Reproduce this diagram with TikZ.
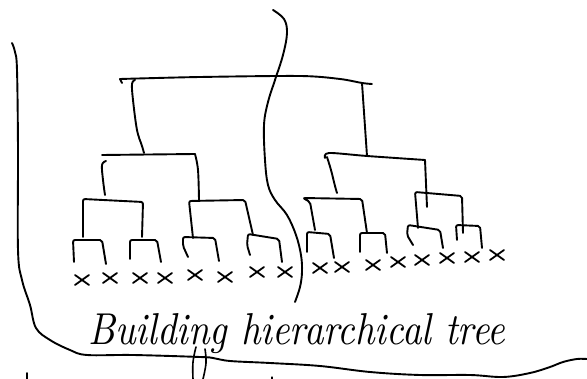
\documentclass[tikz,border=0pt]{standalone}
\usepackage{graphicx}
\tikzset{
  pen/.style={line width=1.9pt, line cap=round, line join=round, black},
  bracket/.style={pen, rounded corners=2pt},
  leafmark/.style={pen, line width=1.8pt},
}
\begin{document}
\begin{tikzpicture}[x=1pt, y=-1pt]
  \useasboundingbox (0,0) rectangle (587,379);

  % frame drawn round the tree
  \draw[pen] plot[smooth, tension=0.6] coordinates {
    (12,43) (15,52) (17,70) (18,150) (18,250) (22,280) (30,305)
    (36,328) (50,340) (70,350) (87,355) (133,355) (200,357) (213,358)
    (230,361) (270,363) (320,366) (370,372) (420,375) (470,375)
    (503,377) (530,373) (550,367) (563,362) (577,359) (587,359)};

  % wavy divider between the two halves
  \draw[pen] plot[smooth, tension=0.6] coordinates {
    (273,10) (284,19) (287,33) (283,55) (275,80) (268,102) (264,125)
    (265,160) (268,185) (275,200) (287,215) (296,235) (301,255)
    (302,272) (300,287) (295,302)};

  % stray marks along the bottom edge
  \draw[pen] (27,373) -- (27,379);
  \draw[pen, line width=1.2pt] (272,377) -- (272,379);

  % ---- root ----
  \draw[pen] plot[smooth, tension=0.5] coordinates {
    (120,79) (200,77) (300,76) (340,79) (362,83) (372,84)};
  \draw[pen] (120,79) -- (122,83);
  \draw[pen] plot[smooth, tension=0.6] coordinates {
    (135,80) (132,84) (133,100) (137,130) (142,146) (144,153)};
  \draw[pen] (362,83) -- (367,156);

  % ---- left half ----
  \draw[pen] (102,155) -- (195,154);
  \draw[pen] plot[smooth, tension=0.6] coordinates {
    (106,161) (102,165) (103,180) (105,195)};
  \draw[pen] plot[smooth, tension=0.6] coordinates {(195,154) (198,170) (199,200)};

  \draw[bracket] (83,237) -- (83,199) -- (143,202) -- (142,237);
  \draw[bracket] (193,238) -- (189,201) -- (245,200) -- (253,235);

  \draw[bracket] (74,262) -- (73,240) -- (102,240) -- (106,264);
  \draw[bracket] (130,259) -- (130,240) -- (157,240) -- (161,262);
  \draw[bracket] (188,257) -- (183,246) -- (183,237) -- (215,238) -- (219,261);
  \draw[bracket] (250,255) -- (247,245) -- (248,234) -- (279,239) -- (282,262);

  % ---- right half ----
  \draw[pen] plot[smooth, tension=0.5] coordinates {
    (325,158) (329,153) (367,156) (425,160)};
  \draw[pen] plot[smooth, tension=0.6] coordinates {
    (327,157) (331,170) (335,186) (337,193)};
  \draw[pen] (425,160) -- (427,207);

  \draw[bracket] (315,230) -- (310,202) -- (303,198) -- (362,199) -- (367,233);
  \draw[bracket] (418,228) -- (415,192) -- (462,196) -- (463,233);

  \draw[bracket] (307,252) -- (307,232) -- (330,234) -- (334,258);
  \draw[bracket] (360,252) -- (360,233) -- (385,233) -- (387,253);
  \draw[bracket] (413,245) -- (407,235) -- (408,225) -- (440,230) -- (443,248);
  \draw[bracket] (457,240) -- (456,225) -- (480,226) -- (482,248);

  % ---- leaves ----
  \foreach \n/\x/\y in {1/82/280, 2/110/278, 3/140/278, 4/165/278,
                        5/195/275, 6/225/277, 7/257/272, 8/285/272,
                        9/320/268, 10/342/267, 11/373/265, 12/398/262,
                        13/422/260, 14/447/258, 15/472/257, 16/497/255}{
    \coordinate (leaf\n) at (\x,\y);
    \draw[leafmark] ([shift={(-7,-5)}]leaf\n) -- ([shift={(7,5)}]leaf\n);
    \draw[leafmark] ([shift={(-7,5)}]leaf\n) -- ([shift={(7,-5)}]leaf\n);
  }

  % ---- caption ----
  \node[anchor=base west, inner sep=0pt] (caption) at (88,345)
    {\resizebox{417pt}{31pt}{\itshape Building hierarchical tree}};
  \draw[pen, line width=1.6pt] plot[smooth, tension=0.7] coordinates {
    (196,347) (193,362) (193,379)};
  \draw[pen, line width=1.6pt] plot[smooth, tension=0.7] coordinates {
    (205,349) (206,363) (203,379)};
\end{tikzpicture}
\end{document}
